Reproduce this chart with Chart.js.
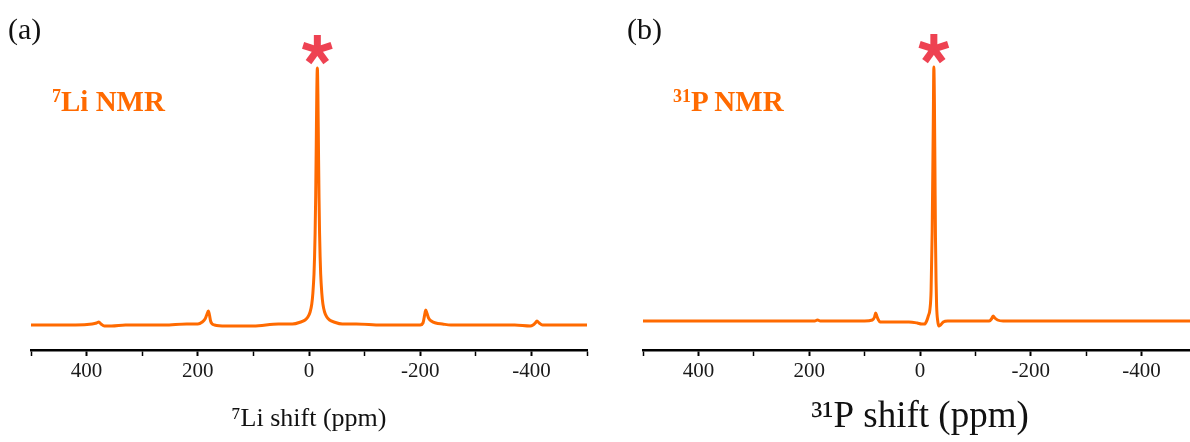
<!DOCTYPE html>
<html>
<head>
<meta charset="utf-8">
<script src="https://cdn.jsdelivr.net/npm/chart.js@4.4.1/dist/chart.umd.min.js"></script>
<style>
  html, body { margin: 0; padding: 0; background: #fff; width: 1190px; height: 442px; overflow: hidden; }
  .panel { position: absolute; top: 0; width: 600px; height: 442px; }
  .tag { position: absolute; font-family: 'Liberation Serif', serif; font-size: 30px; color: #111; line-height: 1; }
  .nmr { position: absolute; font-family: 'Liberation Serif', serif; font-weight: bold; font-size: 29px; color: #ff6a00; line-height: 1; }
  .nmr sup { font-size: 62%; vertical-align: 0.5em; line-height: 0; }
</style>
</head>
<body>
<div class="panel" style="left:0"><canvas id="liChart" width="600" height="442"></canvas></div>
<div class="panel" style="left:600px"><canvas id="pChart" width="600" height="442"></canvas></div>
<div class="tag" style="left:8px;top:14px">(a)</div>
<div class="tag" style="left:627px;top:14px">(b)</div>
<div class="nmr" style="left:52px;top:87px"><sup>7</sup>Li NMR</div>
<div class="nmr" style="left:673px;top:87px"><sup>31</sup>P NMR</div>

<script>
// ticks that get a number under them
const labelledTicks = [400, 200, 0, -200, -400];

// 7Li spectrum, shift (ppm) and intensity
const liShift = [500, 420, 390, 382, 378, 374, 368, 355, 330, 260, 220, 200, 192, 187, 184, 181, 179, 177, 174, 170, 150, 100,
  55, 30, 15, 7, 2, -2, -5, -7, -9, -10, -11, -12, -13, -14, -15, -16, -17, -18, -19, -20, -21, -23, -25, -28, -32, -37, -45, -60, -85,
  -130, -190, -200, -205, -207, -209, -210, -212, -215, -220, -228, -240, -255, -300, -370, -398, -403, -407, -410, -414, -420, -440, -500];
const liIntensity = [0, 0, 1, 2, 3, 1, -1, -1, 0, 0, 1, 1, 3, 6, 10, 14, 10, 4, 1, 0, -1, -1,
  1, 1, 3, 5, 8, 13, 21, 32, 51, 68, 92, 128, 178, 231, 257, 231, 178, 128, 92, 68, 51, 32, 21, 13, 8, 5, 3, 1, 1,
  0, 0, 0, 2, 7, 13, 15, 12, 7, 4, 2, 1, 0, 0, 0, -1, 0, 2, 4, 2, 0, 0, 0];

// 31P spectrum, shift (ppm) and intensity
const pShift = [500, 300, 190, 185, 180, 100, 86, 82, 80, 78, 75, 72, 50, 20, 5, -3, -8, -12, -15, -18, -20, -22, -24, -25,
  -26, -27, -28, -29, -30, -32, -34, -37, -42, -50, -100, -125, -129, -132, -135, -140, -150, -300, -500];
const pIntensity = [0, 0, 0, 1, 0, 0, 1, 4, 8, 5, 1, -1, -1, -1, -2, -3, -3, 0, 5, 12, 30, 90, 200, 254,
  220, 150, 80, 40, 15, 0, -5, -4, -1, 0, 0, 0, 2, 5, 3, 1, 0, 0, 0];

const lineColor = '#ff6a00';
const starColor = '#ee4252';

// asterisk above the tallest point of the spectrum
const peakStar = {
  id: 'peakStar',
  afterDatasetsDraw(chart, args, opts) {
    const pts = chart.data.datasets[0].data;
    let top = pts[0];
    pts.forEach(p => { if (p.y > top.y) top = p; });
    const cx = chart.scales.x.getPixelForValue(top.x);
    const cy = chart.scales.y.getPixelForValue(top.y) - opts.gap;
    const ctx = chart.ctx;
    ctx.save();
    ctx.strokeStyle = opts.color;
    ctx.lineWidth = opts.width;
    for (let i = 0; i < 5; i++) {
      const a = -Math.PI / 2 + i * 2 * Math.PI / 5;
      ctx.beginPath();
      ctx.moveTo(cx, cy);
      ctx.lineTo(cx + opts.r * Math.cos(a), cy + opts.r * Math.sin(a));
      ctx.stroke();
    }
    ctx.restore();
  }
};

function buildSpectrum(canvasId, shifts, values, yMin, yMax, padLeft, padRight, titleText, titleSize, titleBottom) {
  const points = shifts.map((s, i) => ({ x: s, y: values[i] }));
  return new Chart(document.getElementById(canvasId), {
    type: 'line',
    data: {
      datasets: [{
        data: points,
        borderColor: lineColor,
        borderWidth: 3,
        pointRadius: 0,
        cubicInterpolationMode: 'monotone',
        fill: false
      }]
    },
    options: {
      responsive: false,
      animation: false,
      layout: { padding: { left: padLeft, right: padRight, top: 40, bottom: 0 } },
      plugins: {
        legend: { display: false },
        tooltip: { enabled: false },
        peakStar: { gap: 18, r: 15, width: 7, color: starColor }
      },
      scales: {
        y: { display: false, min: yMin, max: yMax },
        x: {
          type: 'linear',
          reverse: true,
          min: -500,
          max: 500,
          afterFit: scale => { scale.height = 92; },
          border: { display: true, color: '#000', width: 2.5 },
          grid: {
            drawOnChartArea: false,
            tickLength: 6,
            tickColor: '#000',
            tickWidth: c => (c.tick && labelledTicks.includes(c.tick.value)) ? 2 : 1.5
          },
          ticks: {
            stepSize: 100,
            autoSkip: false,
            maxRotation: 0,
            padding: 3,
            color: '#1a1a1a',
            font: { family: 'Liberation Serif', size: 21 },
            callback: v => labelledTicks.includes(v) ? String(v) : ''
          },
          title: {
            display: true,
            text: titleText,
            color: '#111',
            font: { family: 'Liberation Serif', size: titleSize, lineHeight: 1.2 },
            padding: { top: 0, bottom: titleBottom }
          }
        }
      }
    },
    plugins: [peakStar]
  });
}

buildSpectrum('liChart', liShift, liIntensity, -25, 285, 31, 13, '\u2077Li shift (ppm)', 26, 7);
buildSpectrum('pChart', pShift, pIntensity, -29, 281, 43, 1, '\u00b3\u00b9P shift (ppm)', 37, 3);
</script>
</body>
</html>
